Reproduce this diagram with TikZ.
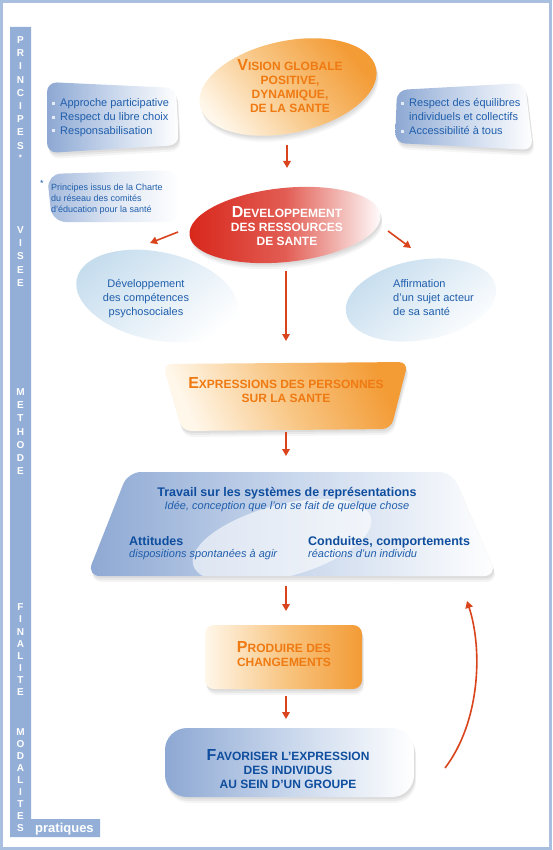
\documentclass[tikz,border=0pt]{standalone}
\usepackage{fontspec}
\setmainfont{Liberation Sans}
\usetikzlibrary{arrows.meta}

\definecolor{barblue}{HTML}{93AFD8}
\definecolor{frameblue}{HTML}{A9BFE0}
\definecolor{txtblue}{HTML}{1F5EAC}
\definecolor{darkblue}{HTML}{0F4E9E}
\definecolor{orangetxt}{HTML}{EF7A12}
\definecolor{orangeA}{HTML}{F39B35}
\definecolor{orangeB}{HTML}{F8C684}
\definecolor{creamA}{HTML}{FFF7EA}
\definecolor{boxblue}{HTML}{8DA8D3}
\definecolor{boxblueB}{HTML}{C9D7EC}
\definecolor{blobblue}{HTML}{C6DDEE}
\definecolor{devred}{HTML}{D8261A}
\definecolor{arrowred}{HTML}{D9441C}
\definecolor{bulletc}{HTML}{E4EBF5}

\newcommand\capini[1]{{\fontsize{16}{14}\selectfont #1}}

% shapes (pixel coordinates, y downwards)
\newcommand\shpVision[1]{\path[#1,rotate around={12:(288,87)}] (288,87) ellipse [x radius=90, y radius=46];}
\newcommand\shpDev[1]{\path[#1,rotate around={6:(285,225)}] (285,225) ellipse [x radius=96, y radius=37];}
\newcommand\shpBlobL[1]{\path[#1,rotate around={-12:(157,296)}] (157,296) ellipse [x radius=82, y radius=44];}
\newcommand\shpBlobR[1]{\path[#1,rotate around={10:(421,300)}] (421,300) ellipse [x radius=76, y radius=40];}
\newcommand\shpBoxA[1]{\path[#1,rounded corners=10pt] (47,82) -- (176,88) -- (179,145) -- (47,153) -- cycle;}
\newcommand\shpBoxB[1]{\path[#1,rounded corners=10pt] (397,90) -- (525,83) -- (533,150) -- (395,143) -- cycle;}
\newcommand\shpNote[1]{\path[#1,rounded corners=14pt] (47,174) -- (178,170) -- (180,222) -- (52,222) -- cycle;}
\newcommand\shpExp[1]{\path[#1,rounded corners=9pt] (163,364) -- (408,362) -- (391,429) -- (182,431) -- cycle;}
\newcommand\shpTrav[1]{\path[#1,rounded corners=13pt] (128,472) -- (452,472) -- (497,576) -- (87,576) -- cycle;}
\newcommand\shpProd[1]{\path[#1,rounded corners=9pt] (205,625) rectangle (362,689);}
\newcommand\shpFav[1]{\path[#1,rounded corners=22pt] (165,728) rectangle (414,797);}
\newcommand\softshadow[1]{#1{fill=black,opacity=.05,yshift=-2pt,xshift=1pt}#1{fill=black,opacity=.05,yshift=-4pt,xshift=1.5pt}#1{fill=black,opacity=.04,yshift=-6pt,xshift=2pt}}

\tikzset{
  barletter/.style={text=white, font=\fontsize{10}{10}\selectfont\bfseries, inner sep=0pt},
  capsT/.style={text=orangetxt, font=\fontsize{12}{14}\selectfont\bfseries, align=center, inner sep=0pt, anchor=base},
  plaintxt/.style={text=txtblue, font=\fontsize{11}{14}\selectfont, align=left, inner sep=0pt, anchor=base west},
  notetxt/.style={text=txtblue, font=\fontsize{9}{11}\selectfont, align=left, inner sep=0pt, anchor=base west},
  travbold/.style={text=darkblue, font=\fontsize{12.5}{14}\selectfont\bfseries, inner sep=0pt, anchor=base},
  travital/.style={text=txtblue, font=\fontsize{11}{14}\selectfont\itshape, inner sep=0pt, anchor=base},
  bulletsq/.style={fill=bulletc, minimum size=3.6pt, inner sep=0pt},
  flowarrow/.style={draw=arrowred, line width=1.6pt, -{Triangle[length=7pt,width=7.5pt]}},
}

\begin{document}
\begin{tikzpicture}[x=1pt,y=-1pt]
\path[use as bounding box] (0,0) rectangle (552,850);
\fill[white] (0,0) rectangle (552,850);
\draw[frameblue, line width=3pt] (1.5,1.5) rectangle (550.5,848.5);

% left bar
\fill[barblue] (10,27) -- (31,27) -- (31,819) -- (100,819) -- (100,837) -- (10,837) -- cycle;
\foreach \l/\y [count=\i] in {P/40,R/53,I/66,N/80,C/93,I/106,P/119,E/132,S/146,
  V/230,I/243,S/256,E/270,E/283,
  M/392,E/405,T/418,H/432,O/445,D/458,E/471,
  F/607,I/619,N/632,A/644,L/656,I/668,T/680,E/692,
  M/732,O/744,D/756,A/768,L/780,I/792,T/804,E/816,S/828}
  \node[barletter] (bl\i) at (20.5,\y) {\l};
\node[barletter, font=\fontsize{8}{8}\selectfont\bfseries] (blstar) at (20.5,158) {*};
\node[barletter, font=\fontsize{13}{13}\selectfont\bfseries, anchor=base west] (prat) at (35,832) {pratiques};

% principle boxes
\softshadow\shpBoxA
\shpBoxA{left color=boxblue, right color=white, middle color=boxblueB}
\node[bulletsq] (bA1) at (53.5,103.5) {};
\node[bulletsq] (bA2) at (53.5,117.5) {};
\node[bulletsq] (bA3) at (53.5,130.5) {};
\node[plaintxt] (princA) at (60,135) {Approche participative\\Respect du libre choix\\Responsabilisation};

\softshadow\shpBoxB
\shpBoxB{left color=boxblue, right color=white, middle color=boxblueB}
\node[bulletsq] (bB1) at (402.5,103.5) {};
\node[bulletsq] (bB2) at (402.5,131.5) {};
\node[plaintxt] (princB) at (409,135) {Respect des équilibres\\individuels et collectifs\\Accessibilité à tous};

% footnote
\shpNote{left color=boxblue!80!white, right color=white, middle color=boxblueB!60!white}
\node[notetxt] (nstar) at (40,187) {*};
\node[notetxt] (note) at (51,213) {Principes issus de la Charte\\du réseau des comités\\d'éducation pour la santé};

% vision
\softshadow\shpVision
\shpVision{top color=orangeA, bottom color=creamA, middle color=orangeB, shading angle=-50}
\node[capsT] (vision) at (290,113) {\capini{V}ISION GLOBALE\\POSITIVE,\\DYNAMIQUE,\\DE LA SANTE};

% developpement
\softshadow\shpDev
\shpDev{left color=devred, right color=white, middle color=devred!75!white}
\node[capsT, text=white] (dev) at (287,245) {\capini{D}EVELOPPEMENT\\DES RESSOURCES\\DE SANTE};

% blobs
\shpBlobL{top color=blobblue, bottom color=white, shading angle=40}
\node[plaintxt, align=center, anchor=base, text=txtblue] (blobL) at (146,315) {Développement\\des compétences\\psychosociales};
\shpBlobR{top color=blobblue, bottom color=white, shading angle=40}
\node[plaintxt] (blobR) at (393,315) {Affirmation\\d'un sujet acteur\\de sa santé};

% expressions
\softshadow\shpExp
\shpExp{top color=orangeA, bottom color=creamA, middle color=orangeB, shading angle=-65}
\node[capsT] (expr) at (286,402) {\capini{E}XPRESSIONS DES PERSONNES\\SUR LA SANTE};

% travail
\softshadow\shpTrav
\shpTrav{left color=boxblue, right color=white, middle color=boxblueB}
\begin{scope}
  \shpTrav{clip}
  \fill[white, opacity=.6, rotate around={15:(282,541)}] (282,541) ellipse [x radius=92, y radius=36];
\end{scope}
\node[travbold] (trav) at (287,496) {Travail sur les systèmes de représentations};
\node[travital] (travi) at (287,509) {Idée, conception que l'on se fait de quelque chose};
\node[travbold, anchor=base west] (att) at (129,545) {Attitudes};
\node[travital, anchor=base west] (atti) at (129,557) {dispositions spontanées à agir};
\node[travbold, anchor=base west] (cond) at (308,545) {Conduites, comportements};
\node[travital, anchor=base west] (condi) at (308,557) {réactions d'un individu};

% produire
\softshadow\shpProd
\shpProd{left color=creamA, right color=orangeA, middle color=orangeB}
\node[capsT] (prod) at (284,666) {\capini{P}RODUIRE DES\\CHANGEMENTS};

% favoriser
\softshadow\shpFav
\shpFav{left color=boxblue, right color=white, middle color=boxblueB}
\node[capsT, text=darkblue] (fav) at (288,788) {\capini{F}AVORISER L'EXPRESSION\\DES INDIVIDUS\\AU SEIN D'UN GROUPE};

% arrows
\coordinate (a1s) at (287,145); \coordinate (a1e) at (287,168);
\coordinate (dls) at (178,232); \coordinate (dle) at (150,243);
\coordinate (drs) at (388,231); \coordinate (dre) at (411,248);
\coordinate (dds) at (286,271); \coordinate (dde) at (286,341);
\coordinate (a2s) at (286,432); \coordinate (a2e) at (286,456);
\coordinate (a3s) at (286,586); \coordinate (a3e) at (286,611);
\coordinate (a4s) at (286,696); \coordinate (a4e) at (286,719);
\coordinate (cs) at (445,768); \coordinate (ce) at (467,601);
\draw[flowarrow] (a1s) -- (a1e);
\draw[flowarrow] (dls) -- (dle);
\draw[flowarrow] (drs) -- (dre);
\draw[flowarrow] (dds) -- (dde);
\draw[flowarrow] (a2s) -- (a2e);
\draw[flowarrow] (a3s) -- (a3e);
\draw[flowarrow] (a4s) -- (a4e);
\draw[flowarrow] (cs) .. controls (480,722) and (483,650) .. (ce);
\end{tikzpicture}
\end{document}
